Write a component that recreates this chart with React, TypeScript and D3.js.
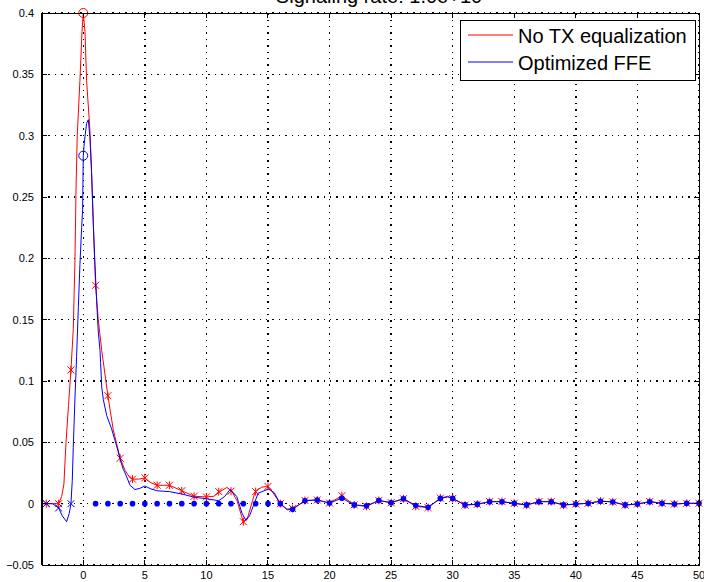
import React from 'react';
import * as d3 from 'd3';

// pulse response, no TX equalization (x in UI, y in V)
const redX = [-3.35, -3, -2, -1.75, -1.57, -1.4, -1.2, -1, -0.81, -0.67, -0.59, -0.49, -0.27, -0.1, 0, 0.14, 0.27, 0.54, 0.68, 0.81, 1, 1.22, 1.5, 2, 2.44, 3, 3.4, 3.8, 4, 4.5, 5, 5.5, 6, 7, 8, 9, 10, 10.6, 11.1, 11.66, 12.06, 12.5, 13, 13.3, 13.96, 14.5, 14.9, 15.2, 16, 16.5, 17, 17.5, 18, 19, 20, 21, 22, 23, 24, 25, 26, 27, 28, 29, 29.6, 30, 31, 32, 33, 34, 35, 36, 37, 38, 39, 40, 41, 42, 43, 44, 45, 46, 47, 48, 49, 50];
const redY = [0, 0, 0, 0.006, 0.016, 0.05, 0.08, 0.109, 0.142, 0.2, 0.255, 0.3, 0.345, 0.385, 0.4, 0.385, 0.345, 0.305, 0.268, 0.23, 0.178, 0.15, 0.125, 0.088, 0.06, 0.037, 0.027, 0.021, 0.02, 0.02, 0.021, 0.017, 0.015, 0.015, 0.0105, 0.006, 0.0055, 0.006, 0.0098, 0.0132, 0.0102, 0.002, -0.015, -0.013, 0.0098, 0.0135, 0.014, 0.012, 0.0, -0.0045, -0.004, -0.001, 0.0026, 0.003, 0.0005, 0.0065, -0.001, -0.0022, 0.0026, 0.0008, 0.004, -0.0022, -0.0032, 0.0045, 0.006, 0.0042, -0.0012, -0.0005, 0.0017, 0.0017, 0.0003, -0.0012, 0.0017, 0.0017, -0.0012, -0.0003, 0.0003, 0.0021, 0.0014, -0.0012, -0.0003, 0.0017, 0.0003, -0.0003, 0.0003, 0.0003];

// optimized FFE
const blueX = [-3.35, -3, -2.5, -2, -1.7, -1.35, -1.14, -1, -0.89, -0.81, -0.67, -0.54, -0.4, -0.27, -0.13, -0.05, 0, 0.08, 0.27, 0.41, 0.54, 0.68, 0.81, 0.95, 1.09, 1.22, 1.36, 1.41, 1.5, 1.63, 1.9, 2.3, 2.71, 3, 3.25, 3.4, 3.8, 4.2, 4.6, 5, 5.5, 6, 7, 8, 9, 10, 11, 11.5, 11.93, 12.47, 12.9, 13.2, 13.5, 14.2, 15.04, 15.5, 16, 16.6, 17, 17.5, 18, 19, 20, 21, 22, 23, 24, 25, 26, 27, 28, 29, 29.6, 30, 31, 32, 33, 34, 35, 36, 37, 38, 39, 40, 41, 42, 43, 44, 45, 46, 47, 48, 49, 50];
const blueY = [0, 0, 0, -0.0035, -0.01, -0.0147, -0.008, 0, 0.019, 0.046, 0.087, 0.12, 0.16, 0.195, 0.225, 0.24, 0.2837, 0.294, 0.31, 0.313, 0.299, 0.27, 0.23, 0.195, 0.165, 0.14, 0.125, 0.115, 0.095, 0.085, 0.072, 0.061, 0.047, 0.036, 0.028, 0.025, 0.015, 0.0115, 0.0125, 0.0144, 0.012, 0.0105, 0.0098, 0.0079, 0.0053, 0.004, 0.0024, 0.006, 0.0117, 0.0057, -0.008, -0.0135, -0.01, 0.0085, 0.012, 0.009, 0.0, -0.005, -0.0045, -0.001, 0.0024, 0.003, 0.0005, 0.0045, -0.001, -0.0018, 0.0026, 0.0008, 0.0040, -0.0015, -0.003, 0.0043, 0.0055, 0.0043, -0.001, -0.0004, 0.0016, 0.0016, 0.0003, -0.001, 0.0016, 0.0016, -0.001, -0.0003, 0.0003, 0.002, 0.0014, -0.001, -0.0003, 0.0016, 0.0003, -0.0003, 0.0003, 0.0003];

// sampled cursors (markers)
const redStarX = [-3, -2, -1, 1, 2, 3, 4, 5, 6, 7, 8, 9, 10, 11, 12, 13, 14, 15, 16, 17, 18, 19, 20, 21, 22, 23, 24, 25, 26, 27, 28, 29, 30, 31, 32, 33, 34, 35, 36, 37, 38, 39, 40, 41, 42, 43, 44, 45, 46, 47, 48, 49, 50];
const redStarY = [0, 0, 0.109, 0.178, 0.088, 0.037, 0.02, 0.021, 0.015, 0.015, 0.0105, 0.006, 0.0055, 0.0098, 0.0102, -0.0147, 0.0098, 0.014, 0.0, -0.004, 0.0026, 0.003, 0.0005, 0.0065, -0.001, -0.0022, 0.0026, 0.0008, 0.004, -0.0022, -0.0032, 0.0045, 0.0042, -0.0012, -0.0005, 0.0017, 0.0017, 0.0003, -0.0012, 0.0017, 0.0017, -0.0012, -0.0003, 0.0003, 0.0021, 0.0014, -0.0012, -0.0003, 0.0017, 0.0003, -0.0003, 0.0003, 0.0003];
const blueCrossX = [-3, -2, -1];
const blueCrossY = [0, -0.0035, 0];
const blueZeroX = [1, 2, 3, 4, 5, 6, 7, 8, 9, 10, 11, 12, 13, 14, 15];
const blueDotX = [16, 17, 18, 19, 20, 21, 22, 23, 24, 25, 26, 27, 28, 29, 30, 31, 32, 33, 34, 35, 36, 37, 38, 39, 40, 41, 42, 43, 44, 45, 46, 47, 48, 49, 50];
const blueDotY = [0.0, -0.0045, 0.0024, 0.003, 0.0005, 0.0045, -0.001, -0.0018, 0.0026, 0.0008, 0.004, -0.0015, -0.003, 0.0043, 0.0043, -0.001, -0.0004, 0.0016, 0.0016, 0.0003, -0.001, 0.0016, 0.0016, -0.001, -0.0003, 0.0003, 0.002, 0.0014, -0.001, -0.0003, 0.0016, 0.0003, -0.0003, 0.0003, 0.0003];
const cursorX = [0];
const redCursorY = [0.4];
const blueCursorY = [0.2837];

const xTicks = [0, 5, 10, 15, 20, 25, 30, 35, 40, 45, 50];
const yTicks = [-0.05, 0, 0.05, 0.1, 0.15, 0.2, 0.25, 0.3, 0.35, 0.4];
const seriesNames = ['No TX equalization', 'Optimized FFE'];
const title = 'Signaling rate: 1.0e+10';

const RED = '#ff0000';
const BLUE = '#0000ff';
const FONT = "'Liberation Sans', Arial, Helvetica, sans-serif";

export default function App() {
  const width = 704;
  const height = 582;
  const margin = { top: 13, right: 5, bottom: 17, left: 42 };

  const x = d3.scaleLinear().domain([-3.35, 50]).range([margin.left, width - margin.right]);
  const y = d3.scaleLinear().domain([-0.05, 0.4]).range([height - margin.bottom, margin.top]);

  const line = d3.line<[number, number]>()
    .x(d => x(d[0]))
    .y(d => y(d[1]));

  const redPts = redX.map((v, i) => [v, redY[i]] as [number, number]);
  const bluePts = blueX.map((v, i) => [v, blueY[i]] as [number, number]);

  const x0 = x.range()[0], x1 = x.range()[1];
  const y0 = y.range()[0], y1 = y.range()[1];
  const tl = 5;

  const star = (cx: number, cy: number, key: string) => {
    const s = 3.5;
    return (
      <path key={key}
        d={`M${cx - s},${cy - s}L${cx + s},${cy + s}M${cx - s},${cy + s}L${cx + s},${cy - s}M${cx},${cy - s - 0.5}L${cx},${cy + s + 0.5}`}
        stroke={RED} strokeWidth={1} fill="none" />
    );
  };
  const cross = (cx: number, cy: number, key: string) => {
    const s = 3.5;
    return (
      <path key={key}
        d={`M${cx - s},${cy - s}L${cx + s},${cy + s}M${cx - s},${cy + s}L${cx + s},${cy - s}`}
        stroke={BLUE} strokeWidth={1} fill="none" />
    );
  };

  return (
    <svg width={width} height={height}
      style={{ position: 'absolute', left: 0, top: 0, background: '#fff', fontFamily: FONT }}>
      <rect x={x0} y={y1} width={x1 - x0} height={y0 - y1} fill="#fff" />

      {/* grid */}
      <g stroke="#000" strokeWidth={1.4} strokeDasharray="1.4 5" shapeRendering="crispEdges">
        {xTicks.map(t => (
          <line key={'gx' + t} x1={x(t)} x2={x(t)} y1={y0} y2={y1} />
        ))}
        {yTicks.map(t => (
          <line key={'gy' + t} x1={x0} x2={x1} y1={y(t)} y2={y(t)} />
        ))}
      </g>

      {/* curves */}
      <path d={line(redPts) || ''} fill="none" stroke={RED} strokeWidth={1} />
      {redStarX.map((v, i) => star(x(v), y(redStarY[i]), 'rs' + i))}
      {cursorX.map((v, i) => (
        <circle key={'rc' + i} cx={x(v)} cy={y(redCursorY[i])} r={4.5} fill="none" stroke={RED} strokeWidth={1} />
      ))}

      <path d={line(bluePts) || ''} fill="none" stroke={BLUE} strokeWidth={1} />
      {blueCrossX.map((v, i) => cross(x(v), y(blueCrossY[i]), 'bx' + i))}
      {blueZeroX.map(v => (
        <circle key={'bz' + v} cx={x(v)} cy={y(0)} r={2.8} fill={BLUE} />
      ))}
      {blueDotX.map((v, i) => (
        <circle key={'bd' + v} cx={x(v)} cy={y(blueDotY[i])} r={2.8} fill={BLUE} />
      ))}
      {cursorX.map((v, i) => (
        <circle key={'bc' + i} cx={x(v)} cy={y(blueCursorY[i])} r={4.5} fill="none" stroke={BLUE} strokeWidth={1} />
      ))}

      {/* axes box and ticks */}
      <g stroke="#000" strokeWidth={1} shapeRendering="crispEdges" fill="none">
        <rect x={x0} y={y1} width={x1 - x0} height={y0 - y1} />
        {xTicks.map(t => (
          <g key={'tx' + t}>
            <line x1={x(t)} x2={x(t)} y1={y0} y2={y0 - tl} />
            <line x1={x(t)} x2={x(t)} y1={y1} y2={y1 + tl} />
          </g>
        ))}
        {yTicks.map(t => (
          <g key={'ty' + t}>
            <line x1={x0} x2={x0 + tl} y1={y(t)} y2={y(t)} />
            <line x1={x1} x2={x1 - tl} y1={y(t)} y2={y(t)} />
          </g>
        ))}
      </g>
      <line x1={x0} x2={x0} y1={y1} y2={y0} stroke="#000" strokeWidth={2} />

      {/* tick labels */}
      <g fontSize={11} fill="#000">
        {xTicks.map(t => (
          <text key={'lx' + t} x={x(t)} y={y0 + 14} textAnchor="middle">{t}</text>
        ))}
        {yTicks.map(t => (
          <text key={'ly' + t} x={x0 - 8} y={y(t) + 4} textAnchor="end">{d3.format('~g')(t)}</text>
        ))}
      </g>

      {/* title */}
      <text x={379} y={3} textAnchor="middle" fontSize={20} fill="#000">{title}</text>

      {/* legend */}
      <g>
        <rect x={460} y={20} width={235} height={60} fill="#fff" stroke="#000" strokeWidth={1} shapeRendering="crispEdges" />
        <line x1={468} x2={513} y1={35} y2={35} stroke={RED} strokeWidth={1} />
        <text x={518} y={43} fontSize={20} fill="#000">{seriesNames[0]}</text>
        <line x1={468} x2={513} y1={62} y2={62} stroke={BLUE} strokeWidth={1} />
        <text x={518} y={70} fontSize={20} fill="#000">{seriesNames[1]}</text>
      </g>
    </svg>
  );
}
